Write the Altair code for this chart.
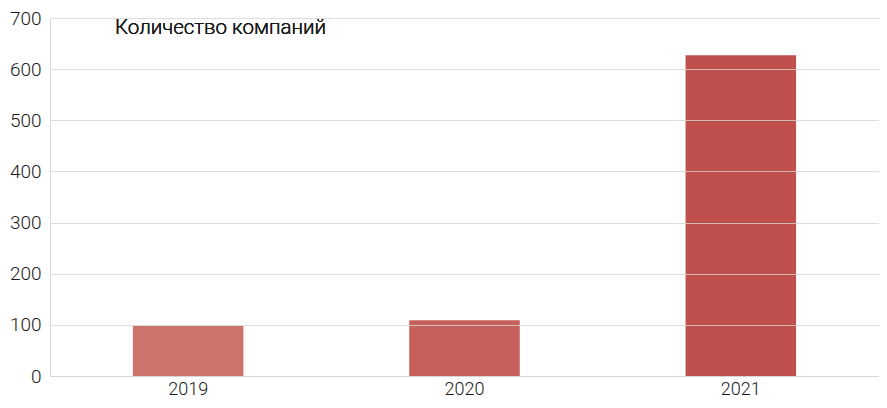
import altair as alt
import pandas as pd

years = ["2019", "2020", "2021"]
counts = [98, 109, 627]
colors = ["#cc746c", "#c6605a", "#c0504d"]
title_text = "Количество компаний"

df = pd.DataFrame({"year": years, "count": counts, "color": colors})

FONT = "Roboto"

bars = alt.Chart(df).mark_bar().encode(
    x=alt.X("year:N", sort=years,
            scale=alt.Scale(paddingInner=0.6, paddingOuter=0.3),
            axis=alt.Axis(title=None, labelAngle=0, ticks=False, labelPadding=4,
                          labelFontSize=18, labelFontWeight=300,
                          labelColor="#1a1a1a", labelFont=FONT,
                          domainColor="#d9d9d9", grid=False)),
    y=alt.Y("count:Q", scale=alt.Scale(domain=[0, 700], nice=False),
            axis=alt.Axis(title=None, values=[0, 100, 200, 300, 400, 500, 600, 700],
                          ticks=False, labelPadding=9, labelFontSize=19,
                          labelFontWeight=300,
                          labelColor="#1a1a1a", labelFont=FONT,
                          domainColor="#d9d9d9", gridColor="#d4d4d4",
                          gridOpacity=0.8, zindex=1)),
    color=alt.Color("color:N", scale=None),
)

label = alt.Chart(df).mark_text(
    text=title_text, align="left", baseline="middle", fontSize=20.5,
    font=FONT, fontWeight=300, color="#1a1a1a",
).encode(x=alt.value(65), y=alt.value(10))

chart = alt.layer(bars, label).properties(
    width=829, height=358,
    autosize=alt.AutoSizeParams(type="none"),
    padding={"left": 42, "top": 10, "right": 0, "bottom": 24},
).configure_view(stroke=None)

chart.save("out.html", embed_options={"renderer": "svg", "actions": False})
